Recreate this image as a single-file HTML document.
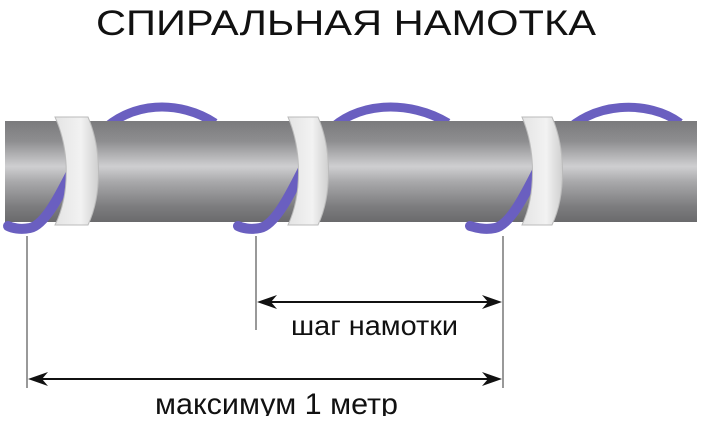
<!DOCTYPE html>
<html><head><meta charset="utf-8"><style>
body{margin:0;background:#fff;width:705px;height:416px;overflow:hidden}
</style></head><body>
<svg width="705" height="416" viewBox="0 0 705 416" xmlns="http://www.w3.org/2000/svg">
<defs>
<linearGradient id="pipe" x1="0" y1="0" x2="0" y2="1">
<stop offset="0" stop-color="#7a7a7c"/>
<stop offset="0.2" stop-color="#8e8e90"/>
<stop offset="0.45" stop-color="#cfcfd1"/>
<stop offset="0.6" stop-color="#a9a9ab"/>
<stop offset="0.85" stop-color="#7c7c7e"/>
<stop offset="1" stop-color="#6a6a6c"/>
</linearGradient>
<linearGradient id="ring" x1="0" y1="0" x2="1" y2="0">
<stop offset="0" stop-color="#e4e4e4"/>
<stop offset="0.6" stop-color="#f2f2f2"/>
<stop offset="1" stop-color="#cfcfcf"/>
</linearGradient>
</defs>
<text x="346" y="35" text-anchor="middle" font-family="Liberation Sans, sans-serif" font-size="35" textLength="500" lengthAdjust="spacingAndGlyphs" fill="#111">СПИРАЛЬНАЯ НАМОТКА</text>
<g fill="none" stroke="#6a5fc0" stroke-width="9">
<path d="M98 135 C130 100 180 100 215 123"/>
<path d="M325 135 C355 100 410 100 448 123"/>
<path d="M560 138 C590 100 650 100 680 123"/>
</g>
<rect x="5" y="121" width="692" height="101" fill="url(#pipe)"/>
<g fill="none" stroke="#6a5fc0" stroke-width="10" stroke-linecap="round">
<path d="M75 165 C60 195 45 225 30 228 C20 230 12 228 8 226"/>
<path d="M305 165 C290 195 275 225 260 228 C250 230 242 228 238 226"/>
<path d="M540 165 C525 195 510 225 495 228 C485 230 477 228 470 226"/>
</g>
<g stroke="#bbb" stroke-width="1">
<path d="M55 117 L88 117 C102 150 102 195 88 225 L55 225 C70 195 70 150 55 117 Z" fill="url(#ring)"/>
<path d="M288 117 L318 117 C332 150 332 195 318 225 L288 225 C302 195 302 150 288 117 Z" fill="url(#ring)"/>
<path d="M522 117 L552 117 C566 150 566 195 552 225 L522 225 C536 195 536 150 522 117 Z" fill="url(#ring)"/>
</g>
<g stroke="#333" stroke-width="1">
<line x1="27" y1="236" x2="27" y2="388"/>
<line x1="256" y1="236" x2="256" y2="330"/>
<line x1="503" y1="236" x2="503" y2="388"/>
</g>
<g stroke="#111" stroke-width="2">
<line x1="262" y1="302" x2="496" y2="302"/>
<line x1="33" y1="379" x2="496" y2="379"/>
</g>
<g fill="#111">
<path d="M257 302 L277 295 L271 302 L277 309 Z"/>
<path d="M502 302 L482 295 L488 302 L482 309 Z"/>
<path d="M28 379 L48 372 L42 379 L48 386 Z"/>
<path d="M502 379 L482 372 L488 379 L482 386 Z"/>
</g>
<text x="291" y="335" font-family="Liberation Sans, sans-serif" font-size="28" textLength="167" lengthAdjust="spacingAndGlyphs" fill="#111">шаг намотки</text>
<text x="155" y="414" font-family="Liberation Sans, sans-serif" font-size="30" textLength="243" lengthAdjust="spacingAndGlyphs" fill="#111">максимум 1 метр</text>
</svg>
</body></html>
